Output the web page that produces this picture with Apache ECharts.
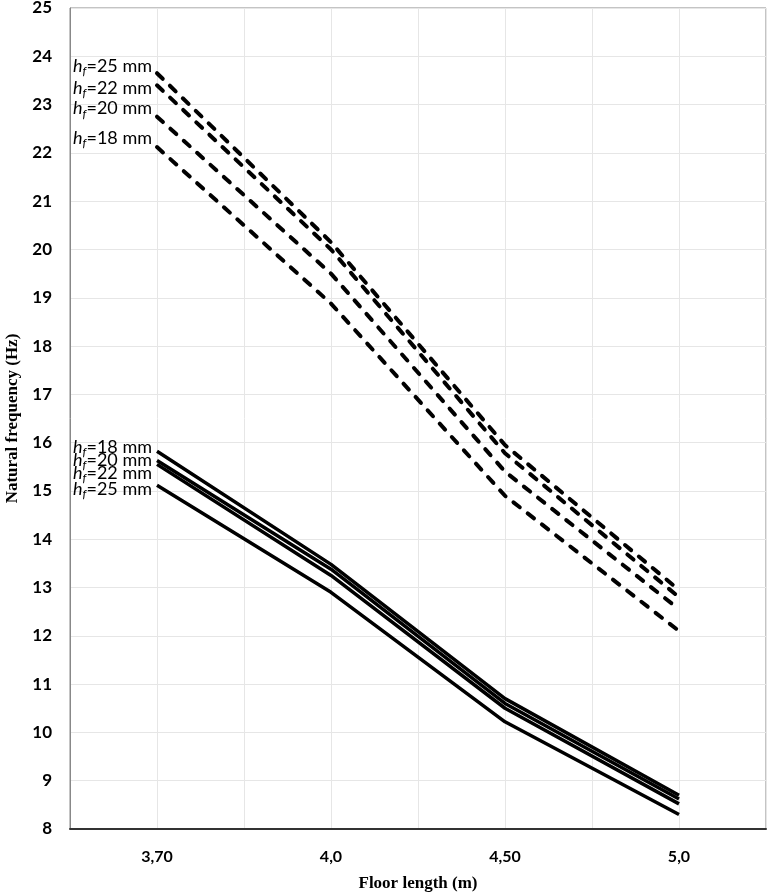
<!DOCTYPE html>
<html><head><meta charset="utf-8">
<script src="https://cdn.jsdelivr.net/npm/echarts@6/dist/echarts.min.js"></script>
<style>html,body{margin:0;padding:0;background:#fff}#c{width:767px;height:894px}</style>
</head><body><div id="c"></div>
<script>
const categories = ['3,70', '4,0', '4,50', '5,0'];
const thicknesses = ['25', '22', '20', '18'];
// dashed family
const dashed25 = [23.65, 20.15, 15.95, 12.95];
const dashed22 = [23.40, 20.00, 15.78, 12.80];
const dashed20 = [22.75, 19.50, 15.40, 12.55];
const dashed18 = [22.12, 18.88, 14.90, 12.10];
// solid family
const solid18 = [15.82, 13.48, 10.70, 8.70];
const solid20 = [15.63, 13.38, 10.60, 8.62];
const solid22 = [15.55, 13.25, 10.50, 8.52];
const solid25 = [15.12, 12.90, 10.22, 8.30];
const yTicks = [8, 25, 1];

const labelOffsets = {
  d25: -7, d22: 3, d20: -8, d18: -9,
  s18: -4, s20: 0, s22: 9, s25: 4
};

function mk(name, vals, th, dashed, key) {
  return {
    name: name, type: 'line', symbol: 'none', silent: true,
    data: vals.map((v, i) => [i, v]),
    lineStyle: { color: '#000', width: dashed ? 4 : 3.5, type: dashed ? [8, 10] : 'solid', cap: dashed ? 'round' : 'butt' },
    label: { show: false },
    markPoint: {
      symbol: 'circle', symbolSize: 0,
      data: [{ coord: [0, vals[0]], value: th }],
      label: {
        show: true, position: 'left', distance: 5, offset: [0, labelOffsets[key]],
        formatter: '{h|h}{f|f}{t|=' + th + ' mm}',
        rich: {
          h: { fontFamily: 'Lato', fontSize: 18, fontStyle: 'italic', color: '#000' },
          f: { fontFamily: 'Lato', fontSize: 12, fontStyle: 'italic', color: '#000', padding: [10, 0, 0, 0] },
          t: { fontFamily: 'Lato', fontSize: 18, color: '#000' }
        }
      }
    }
  };
}

const chart = echarts.init(document.getElementById('c'));
chart.setOption({
  animation: false,
  backgroundColor: '#fff',
  grid: { left: 70, right: 1, top: 8, bottom: 65, show: true, borderColor: '#888', borderWidth: 1, outerBoundsMode: 'none', containLabel: false },
  xAxis: {
    type: 'value', min: -0.5, max: 3.5, interval: 0.5,
    name: 'Floor length (m)', nameLocation: 'middle', nameGap: 46,
    nameTextStyle: { fontFamily: 'Liberation Serif', fontWeight: 'bold', fontSize: 17, color: '#000' },
    axisLine: { show: true, onZero: false, lineStyle: { color: '#333', width: 2 } },
    axisTick: { show: false },
    splitLine: { show: true, lineStyle: { color: '#e6e6e6', width: 1 } },
    axisLabel: {
      margin: 20, fontFamily: 'Lato', fontWeight: 'bold', fontSize: 16, color: '#000',
      formatter: v => Number.isInteger(v) ? categories[v] : ''
    }
  },
  yAxis: {
    type: 'value', min: yTicks[0], max: yTicks[1], interval: yTicks[2],
    name: 'Natural frequency (Hz)', nameLocation: 'middle', nameGap: 49,
    nameTextStyle: { fontFamily: 'Liberation Serif', fontWeight: 'bold', fontSize: 17, color: '#000' },
    axisLine: { show: true, onZero: false, lineStyle: { color: '#888', width: 1 } },
    axisTick: { show: false },
    splitLine: { show: true, lineStyle: { color: '#e6e6e6', width: 1 } },
    axisLabel: { margin: 18, fontFamily: 'Lato', fontWeight: 'bold', fontSize: 17, color: '#000' }
  },
  series: [
    mk('d25', dashed25, thicknesses[0], true, 'd25'),
    mk('d22', dashed22, thicknesses[1], true, 'd22'),
    mk('d20', dashed20, thicknesses[2], true, 'd20'),
    mk('d18', dashed18, thicknesses[3], true, 'd18'),
    mk('s18', solid18, thicknesses[3], false, 's18'),
    mk('s20', solid20, thicknesses[2], false, 's20'),
    mk('s22', solid22, thicknesses[1], false, 's22'),
    mk('s25', solid25, thicknesses[0], false, 's25')
  ]
});
</script></body></html>
